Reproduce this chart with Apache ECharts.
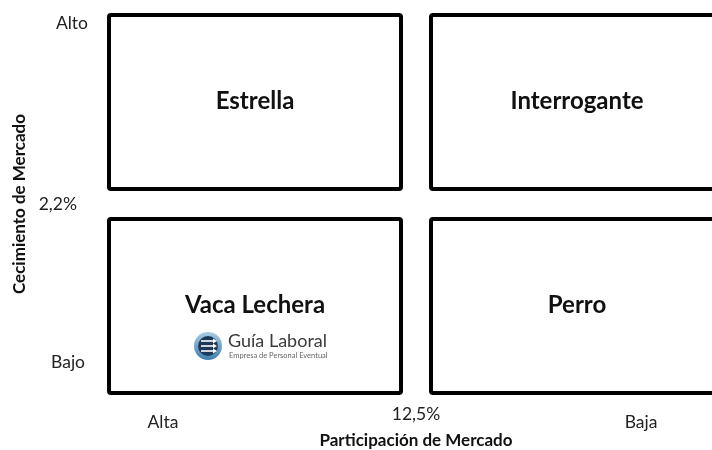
<!DOCTYPE html>
<html>
<head>
<meta charset="utf-8">
<script src="https://cdn.jsdelivr.net/npm/echarts@6/dist/echarts.min.js"></script>
<style>
html,body{margin:0;padding:0;background:#fff;}
#chart{width:712px;height:450px;}
</style>
</head>
<body>
<div id="chart"></div>
<script>
// ---- data ----
const quadrants = ['Estrella', 'Interrogante', 'Vaca Lechera', 'Perro'];
const shareCol = [0, 1, 0, 1];   // 0 = Alta participación, 1 = Baja
const growthRow = [1, 1, 0, 0];  // 1 = Alto crecimiento, 0 = Bajo
const xTickLabels = ['Alta', '12,5%', 'Baja'];
const yTickLabels = ['Bajo', '2,2%', 'Alto'];
const xAxisTitle = 'Participación de Mercado';
const yAxisTitle = 'Cecimiento de Mercado';
const logoTitle = 'Guía Laboral';
const logoSubtitle = 'Empresa de Personal Eventual';

// ---- layout ----
const xTickAt = [-0.286, 0.5, 1.199];
const yTickAt = [-0.276, 0.5, 1.387];
const FONT = 'Lato, "Open Sans", sans-serif';
const LBL = 17.5;

function labelFor(ticks, labels, v) {
  let best = 0, d = Infinity;
  ticks.forEach((t, i) => { if (Math.abs(t - v) < d) { d = Math.abs(t - v); best = i; } });
  return labels[best];
}

const chart = echarts.init(document.getElementById('chart'), null, {renderer: 'canvas'});

const option = {
  animation: false,
  backgroundColor: '#fff',
  grid: {left: 94, top: 0, width: 644, height: 408, containLabel: false, outerBoundsMode: 'none'},
  xAxis: {
    type: 'value', min: -0.5, max: 1.5,
    axisLine: {show: false}, axisTick: {show: false}, splitLine: {show: false},
    axisLabel: {
      customValues: xTickAt,
      margin: -3,
      fontFamily: FONT, fontSize: LBL, color: '#222',
      formatter: v => {
        const t = labelFor(xTickAt, xTickLabels, v);
        return t === xTickLabels[1] ? '{m|' + t + '}' : '{e|' + t + '}';
      },
      rich: {
        m: {fontFamily: FONT, fontSize: LBL, color: '#222', padding: [0, 0, 0, 0]},
        e: {fontFamily: FONT, fontSize: LBL, color: '#222', padding: [8, 0, 0, 0]}
      }
    },
    name: xAxisTitle, nameLocation: 'middle', nameGap: 24, nameMoveOverlap: false,
    nameTextStyle: {fontFamily: FONT, fontSize: 17, fontWeight: 'bold', color: '#111'}
  },
  yAxis: {
    type: 'value', min: -0.5, max: 1.5,
    axisLine: {show: false}, axisTick: {show: false}, splitLine: {show: false},
    axisLabel: {
      customValues: yTickAt,
      margin: 6,
      fontFamily: FONT, fontSize: LBL, color: '#222',
      formatter: v => {
        const t = labelFor(yTickAt, yTickLabels, v);
        const i = yTickLabels.indexOf(t);
        return '{t' + i + '|' + t + '}';
      },
      rich: {
        t0: {fontFamily: FONT, fontSize: LBL, color: '#222', padding: [0, 3, 0, 0]},
        t1: {fontFamily: FONT, fontSize: LBL, color: '#222', padding: [0, 11, 0, 0]},
        t2: {fontFamily: FONT, fontSize: LBL, color: '#222', padding: [0, 0, 0, 0]}
      }
    },
    name: yAxisTitle, nameLocation: 'middle', nameGap: 66, nameMoveOverlap: false,
    nameTextStyle: {fontFamily: FONT, fontSize: 17, fontWeight: 'bold', color: '#111'}
  },
  series: [{
    type: 'custom',
    coordinateSystem: 'cartesian2d',
    clip: false,
    z: 2,
    data: quadrants.map((q, i) => [shareCol[i], growthRow[i]]),
    renderItem: (params, api) => {
      const c = api.value(0), r = api.value(1);
      const p0 = api.coord([c - 0.5, r + 0.5]);
      const p1 = api.coord([c + 0.5, r - 0.5]);
      const inset = 15;
      const x = p0[0] + inset, y = p0[1] + inset;
      const w = p1[0] - p0[0] - 2 * inset, h = p1[1] - p0[1] - 2 * inset;
      return {
        type: 'group',
        children: [
          {type: 'rect', shape: {x: x, y: y, width: w, height: h, r: 2},
           style: {fill: 'none', stroke: '#000', lineWidth: 4}},
          {type: 'text', style: {text: quadrants[params.dataIndex], x: x + w / 2, y: y + h / 2 - 1,
           align: 'center', verticalAlign: 'middle', fontFamily: FONT, fontSize: 24, fontWeight: 'bold', fill: '#111'}}
        ]
      };
    }
  }],
  graphic: [{
    type: 'group', left: 194, top: 332, z: 100,
    children: [
      {type: 'circle', shape: {cx: 14, cy: 14, r: 14},
       style: {fill: new echarts.graphic.LinearGradient(0, 0, 0, 1, [{offset: 0, color: '#a9cbe4'}, {offset: 1, color: '#3f7fb0'}])}},
      {type: 'circle', shape: {cx: 14, cy: 14, r: 10}, style: {fill: '#1e3957'}},
      {type: 'polyline', shape: {points: [[7, 9], [20, 9]]}, style: {stroke: '#fff', lineWidth: 1.6}},
      {type: 'polyline', shape: {points: [[7, 14], [20, 14]]}, style: {stroke: '#fff', lineWidth: 1.6}},
      {type: 'polyline', shape: {points: [[7, 19], [20, 19]]}, style: {stroke: '#fff', lineWidth: 1.6}},
      {type: 'polygon', shape: {points: [[19, 6.5], [23, 9], [19, 11.5]]}, style: {fill: '#fff'}},
      {type: 'polygon', shape: {points: [[19, 11.5], [23, 14], [19, 16.5]]}, style: {fill: '#fff'}},
      {type: 'polygon', shape: {points: [[19, 16.5], [23, 19], [19, 21.5]]}, style: {fill: '#fff'}},
      {type: 'text', x: 34, y: 0, style: {text: logoTitle, fontFamily: FONT, fontSize: 18, fill: '#3a3a3a'}},
      {type: 'text', x: 35, y: 20, style: {text: logoSubtitle, fontFamily: FONT, fontSize: 7.5, fill: '#666'}}
    ]
  }]
};
chart.setOption(option);
</script>
</body>
</html>
